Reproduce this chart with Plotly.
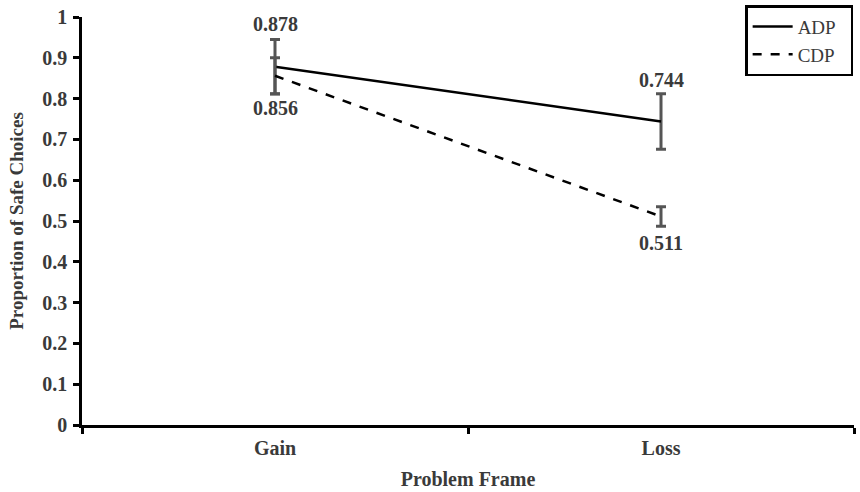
import plotly.graph_objects as go

categories = ["Gain", "Loss"]
adp_values = [0.878, 0.744]
cdp_values = [0.856, 0.511]
adp_errors = [0.067, 0.068]
cdp_errors = [0.044, 0.024]
y_ticks = [0, 0.1, 0.2, 0.3, 0.4, 0.5, 0.6, 0.7, 0.8, 0.9, 1]
y_tick_labels = ["0", "0.1", "0.2", "0.3", "0.4", "0.5", "0.6", "0.7", "0.8", "0.9", "1"]

FONT = "Liberation Serif, Times New Roman, serif"
TXT = "#3a3a3a"
ERR = "#555555"

fig = go.Figure()
fig.add_trace(go.Scatter(
    x=categories, y=adp_values, name="ADP\u00a0\u00a0", mode="lines",
    line=dict(color="black", width=2.5),
    error_y=dict(type="data", array=adp_errors, visible=True, color=ERR, thickness=3, width=5),
))
fig.add_trace(go.Scatter(
    x=categories, y=cdp_values, name="CDP\u00a0\u00a0", mode="lines",
    line=dict(color="black", width=2.5, dash="dash"),
    error_y=dict(type="data", array=cdp_errors, visible=True, color=ERR, thickness=3, width=5),
))

for cat, v, shift in zip(categories, adp_values, [43, 41]):
    fig.add_annotation(x=cat, y=v, text=f"<b>{v:.3f}</b>", showarrow=False, yshift=shift,
                       font=dict(family=FONT, size=20, color=TXT))
for cat, v, shift in zip(categories, cdp_values, [-32, -26]):
    fig.add_annotation(x=cat, y=v, text=f"<b>{v:.3f}</b>", showarrow=False, yshift=shift,
                       font=dict(family=FONT, size=20, color=TXT))

fig.update_layout(
    width=860, height=492,
    margin=dict(l=82, r=6, t=17, b=67, autoexpand=False),
    plot_bgcolor="white", paper_bgcolor="white",
    font=dict(family=FONT, color=TXT),
    showlegend=True,
    legend=dict(x=0.859, y=1.029, xanchor="left", yanchor="top",
                bordercolor="black", borderwidth=2.5, bgcolor="white",
                font=dict(family=FONT, size=19, color=TXT),
                itemwidth=40, tracegroupgap=2),
    xaxis=dict(
        type="category", range=[-0.5, 1.5], tickson="boundaries",
        ticks="outside", ticklen=6, tickwidth=2.5, tickcolor="black",
        showline=True, linecolor="black", linewidth=2.5, showgrid=False,
        tickfont=dict(family=FONT, size=20, color=TXT),
        ticklabelstandoff=3,
        tickvals=categories, ticktext=[f"<b>{c}</b>" for c in categories],
        title=dict(text="<b>Problem Frame</b>", font=dict(family=FONT, size=20, color=TXT), standoff=15),
    ),
    yaxis=dict(
        range=[0, 1], tickvals=y_ticks, ticktext=[f"<b>{t}</b>" for t in y_tick_labels],
        ticks="outside", ticklen=6, tickwidth=2.5, tickcolor="black",
        showline=True, linecolor="black", linewidth=2.5, showgrid=False, zeroline=False,
        tickfont=dict(family=FONT, size=20, color=TXT),
        ticklabelstandoff=2,
        title=dict(text="<b>Proportion of Safe Choices</b>", font=dict(family=FONT, size=19, color=TXT), standoff=14),
    ),
)

fig.write_html("out.html", post_script="document.body.style.margin='0';",
               config={"displayModeBar": False})
